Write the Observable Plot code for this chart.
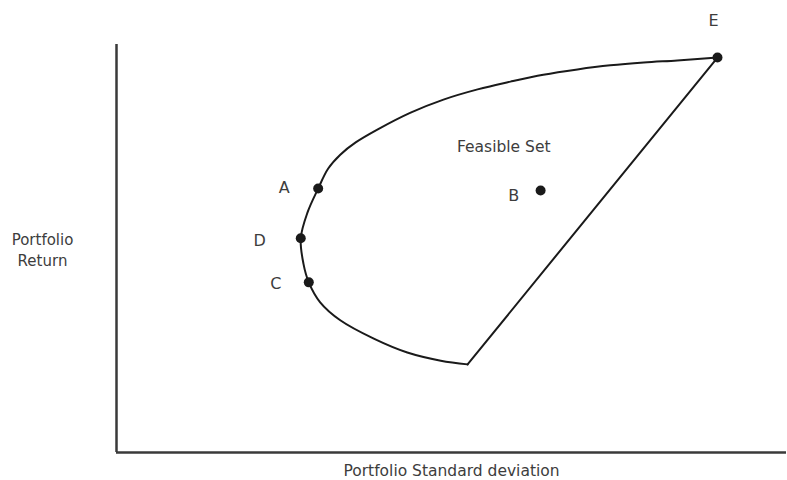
<!DOCTYPE html>
<html>
<head>
<meta charset="utf-8">
<script src="https://cdn.jsdelivr.net/npm/d3@7"></script>
<script src="https://cdn.jsdelivr.net/npm/@observablehq/plot@0.6"></script>
<style>
  html, body { margin: 0; padding: 0; background: #fff; }
  #chart svg { display: block; }
</style>
</head>
<body>
<div id="chart"></div>
<script>
// Minimum-variance frontier (std dev, return), from E round to the lower corner
const frontierSd  = [8.97, 8.37, 7.87, 7.37, 6.88, 6.37, 5.88, 5.39, 4.88, 4.39, 3.90, 3.57, 3.34, 3.16, 3.01, 2.85, 2.75, 2.79, 2.87, 3.04, 3.34, 3.84, 4.34, 4.84, 5.24];
const frontierRet = [9.68, 9.61, 9.56, 9.49, 9.39, 9.26, 9.09, 8.90, 8.65, 8.33, 7.92, 7.60, 7.30, 6.96, 6.47, 5.88, 5.25, 4.63, 4.17, 3.68, 3.24, 2.79, 2.45, 2.25, 2.16];

// Straight edge closing the feasible set (lower corner to E)
const edgeSd  = [5.24, 8.97];
const edgeRet = [2.16, 9.68];

// Labelled portfolios
const pointNames = ["A", "B", "C", "D", "E"];
const pointSd    = [3.01, 6.33, 2.87, 2.75, 8.97];
const pointRet   = [6.47, 6.42, 4.17, 5.25, 9.68];

const regionLabel = "Feasible Set";
const regionSd = 5.78, regionRet = 7.49;

const xAxisLabel = "Portfolio Standard deviation";
const yAxisLabel = "Portfolio\nReturn";

const frontier = frontierSd.map((x, i) => ({x, y: frontierRet[i]}));
const edge = edgeSd.map((x, i) => ({x, y: edgeRet[i]}));
const points = pointNames.map((name, i) => ({name, x: pointSd[i], y: pointRet[i]}));

const ink = "#1a1a1a";
const textInk = "#3d3d3d";
const font = "DejaVu Sans, Verdana, sans-serif";

const labelOffsets = {A: [-34, -1], B: [-27, 5], C: [-33, 2], D: [-41, 3], E: [-4, -37]};

const chart = Plot.plot({
  width: 787,
  height: 480,
  marginLeft: 116,
  marginRight: 1,
  marginTop: 44,
  marginBottom: 28,
  x: {domain: [0, 10], axis: null},
  y: {domain: [0, 10], axis: null},
  style: {fontFamily: font, background: "#fff"},
  marks: [
    Plot.ruleX([0], {y1: 0, y2: 10, stroke: "#3a3a3a", strokeWidth: 2.5}),
    Plot.ruleY([0], {x1: 0, x2: 10, stroke: "#3a3a3a", strokeWidth: 2.5}),
    Plot.line(frontier, {x: "x", y: "y", curve: "catmull-rom", stroke: ink, strokeWidth: 2}),
    Plot.line(edge, {x: "x", y: "y", stroke: ink, strokeWidth: 2}),
    Plot.dot(points, {x: "x", y: "y", r: 5, fill: ink, stroke: "none"}),
    ...points.map(p => Plot.text([p], {
      x: "x", y: "y", text: "name",
      dx: labelOffsets[p.name][0], dy: labelOffsets[p.name][1],
      fill: textInk, fontSize: 16
    })),
    Plot.text([regionLabel], {x: () => regionSd, y: () => regionRet, text: d => d, fill: textInk, fontSize: 15.5}),
    Plot.text([yAxisLabel], {frameAnchor: "left", text: d => d, dx: -74, dy: 0, textAnchor: "middle", fill: textInk, fontSize: 15, lineHeight: 1.4}),
    Plot.text([xAxisLabel], {frameAnchor: "bottom", text: d => d, dy: 23, fill: textInk, fontSize: 15.5})
  ]
});
document.getElementById("chart").append(chart);
</script>
</body>
</html>
